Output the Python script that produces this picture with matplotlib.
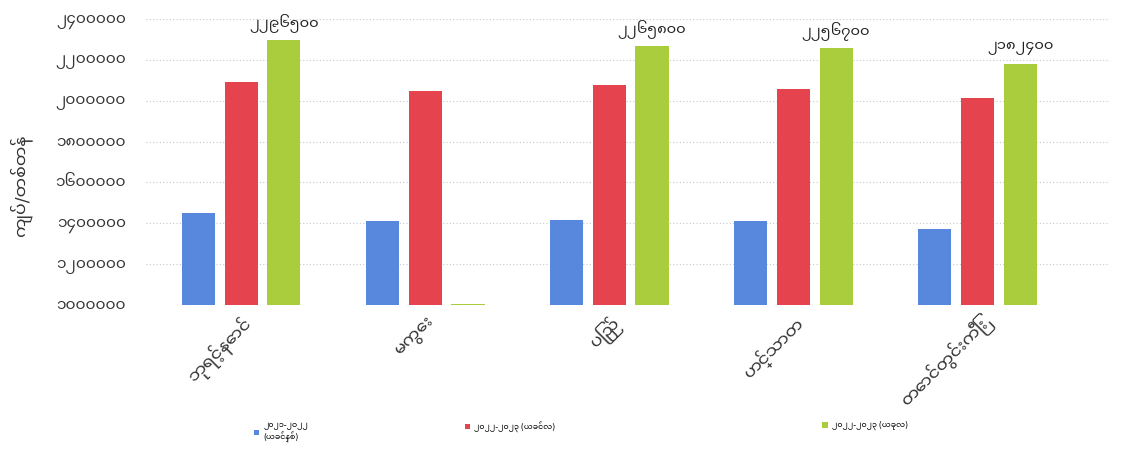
import matplotlib
matplotlib.use("Agg")
import matplotlib.pyplot as plt
from matplotlib.ticker import FuncFormatter, MultipleLocator

plt.rcParams["font.family"] = ["Noto Sans Myanmar UI", "DejaVu Sans"]

BLUE = "#5888dd"; RED = "#e5444f"; GREEN = "#a9cd3c"

markets = ["ဘုရင့်နောင်", "မကွေး", "ပြည်", "ဟင်္သာတ", "တောင်တွင်းကြီး"]
prev_year = [1452000, 1412700, 1416100, 1411200, 1370600]
prev_month = [2093100, 2047500, 2076900, 2055900, 2011800]
current = [2296500, 1004000, 2265800, 2256700, 2182400]
current_labels = ["၂၂၉၆၅၀၀", "", "၂၂၆၅၈၀၀", "၂၂၅၆၇၀၀", "၂၁၈၂၄၀၀"]
series_names = ["၂၀၂၁-၂၀၂၂\n(ယခင်နှစ်)", "၂၀၂၂-၂၀၂၃ (ယခင်လ)", "၂၀၂၂-၂၀၂၃ (ယခုလ)"]
y_title = "ကျပ်/တစ်တန်"

MM = str.maketrans("0123456789", "၀၁၂၃၄၅၆၇၈၉")

fig = plt.figure(figsize=(11.28, 4.65), dpi=100)
ax = fig.add_axes([0.129, 0.344, 0.855, 0.615])

x = range(len(markets))
w = 0.18; step = 0.232
b1 = ax.bar([i - step for i in x], prev_year, w, color=BLUE, zorder=3)
b2 = ax.bar(list(x), prev_month, w, color=RED, zorder=3)
b3 = ax.bar([i + step for i in x], current, w, color=GREEN, zorder=3)

for rect, lab in zip(b3, current_labels):
    if lab:
        ax.annotate(lab, (rect.get_x() + rect.get_width() / 2, rect.get_height()),
                    xytext=(0, 6), textcoords="offset points", ha="center", va="bottom",
                    fontsize=10.5, color="#222", annotation_clip=False)

ax.set_ylim(1000000, 2400000)
ax.set_xlim(-0.52, 4.72)
ax.yaxis.set_major_locator(MultipleLocator(200000))
ax.yaxis.set_major_formatter(FuncFormatter(lambda v, p: str(int(round(v))).translate(MM)))
ax.grid(axis="y", color="#c8c8c8", linestyle=(0, (1, 2)), linewidth=0.8, zorder=0)
for s in ax.spines.values():
    s.set_visible(False)
ax.tick_params(axis="both", length=0, labelsize=11, colors="#333")
ax.tick_params(axis="y", pad=14)
ax.tick_params(axis="x", pad=6)
ax.set_xticks(list(x))
ax.set_xticklabels(markets, rotation=45, ha="right", va="top", rotation_mode="anchor", fontsize=12.5)
ax.set_ylabel(y_title, fontsize=12.5, color="#333")
ax.yaxis.set_label_coords(-0.118, 0.416)

# legend entries spread along the bottom like the original
for bars, name, xpos in zip([b1, b2, b3], series_names, [0.225, 0.412, 0.729]):
    fig.legend([bars], [name], loc="upper left", bbox_to_anchor=(xpos, 0.095), frameon=False,
               fontsize=5.7, handlelength=0.7, handleheight=0.7, handletextpad=0.5,
               borderaxespad=0, borderpad=0)

fig.savefig("out.png", facecolor="white")
